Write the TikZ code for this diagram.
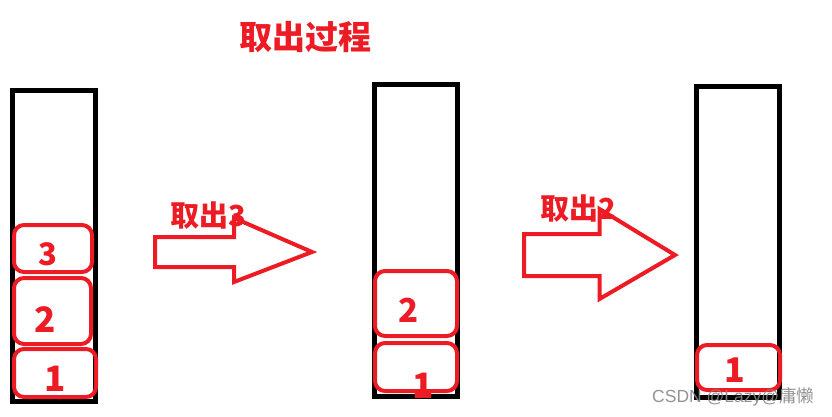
\documentclass[tikz,border=0pt]{standalone}
\usepackage{fontspec}
\newfontfamily\cjk{Noto Sans CJK SC}
\newfontfamily\wmfont{Liberation Sans}
\definecolor{pred}{RGB}{237,28,36}
\definecolor{wmgray}{RGB}{135,135,135}
\tikzset{
  stack/.style={draw=black, line width=5pt},
  cell/.style={draw=pred, line width=4pt, rounded corners=10pt},
  num/.style={text=pred, inner sep=0pt, anchor=base, font=\cjk\bfseries\fontsize{#1}{#1}\selectfont},
  lbl/.style={text=pred, inner sep=0pt, anchor=base west, font=\cjk\bfseries\fontsize{29}{29}\selectfont},
  ttl/.style={text=pred, inner sep=0pt, anchor=base, font=\cjk\bfseries\fontsize{33}{33}\selectfont},
  bigarrow/.style={draw=pred, line width=4pt, line join=miter},
  wm/.style={text=wmgray, inner sep=0pt, anchor=base west, opacity=0.9, font=\wmfont\fontsize{17.5}{17.5}\selectfont}
}
\begin{document}
\begin{tikzpicture}[x=1pt, y=-1pt]
\useasboundingbox (0,0) rectangle (832,417);
% title
\node[ttl] (title) at (305.5,49.5) {取出过程};
% stacks
\draw[stack] (12.5,90.5) rectangle (95.5,401.5);
\draw[stack] (374.5,84.5) rectangle (457.5,396);
\draw[stack] (696.5,86.5) rectangle (779.5,397.5);
% left stack cells
\draw[cell] (14,225) rectangle (92,272);
\draw[cell] (14,278) rectangle (91,344);
\draw[cell] (14,349) rectangle (96,397);
\node[num=31] (l3) at (48,265) {3};
\node[num=35] (l2) at (45.5,332) {2};
\node[num=35] (l1) at (55.5,391) {1};
% middle stack cells
\draw[cell] (375,271) rectangle (457,336);
\draw[cell] (375,343) rectangle (457,391);
\node[num=33] (m2) at (409,322) {2};
\node[num=35] (m1) at (423.5,398) {1};
% right stack cell
\draw[cell] (697,345) rectangle (780,390);
\node[num=34] (r1) at (735,382) {1};
% arrows
\draw[bigarrow] (155,237) -- (234,237) -- (234,218) -- (312,252) -- (234,282) -- (234,267) -- (155,267) -- cycle;
\draw[bigarrow] (524,234) -- (599.5,234) -- (599.5,209) -- (675,255) -- (599.5,299) -- (599.5,276) -- (524,276) -- cycle;
% arrow labels
\node[lbl] (a1) at (170.5,226) {取出3};
\node[lbl] (a2) at (540.5,219) {取出2};
% watermark
\node[wm] (wmark) at (652,402) {CSDN @Lazy@{\cjk 庸懒}};
\end{tikzpicture}
\end{document}
